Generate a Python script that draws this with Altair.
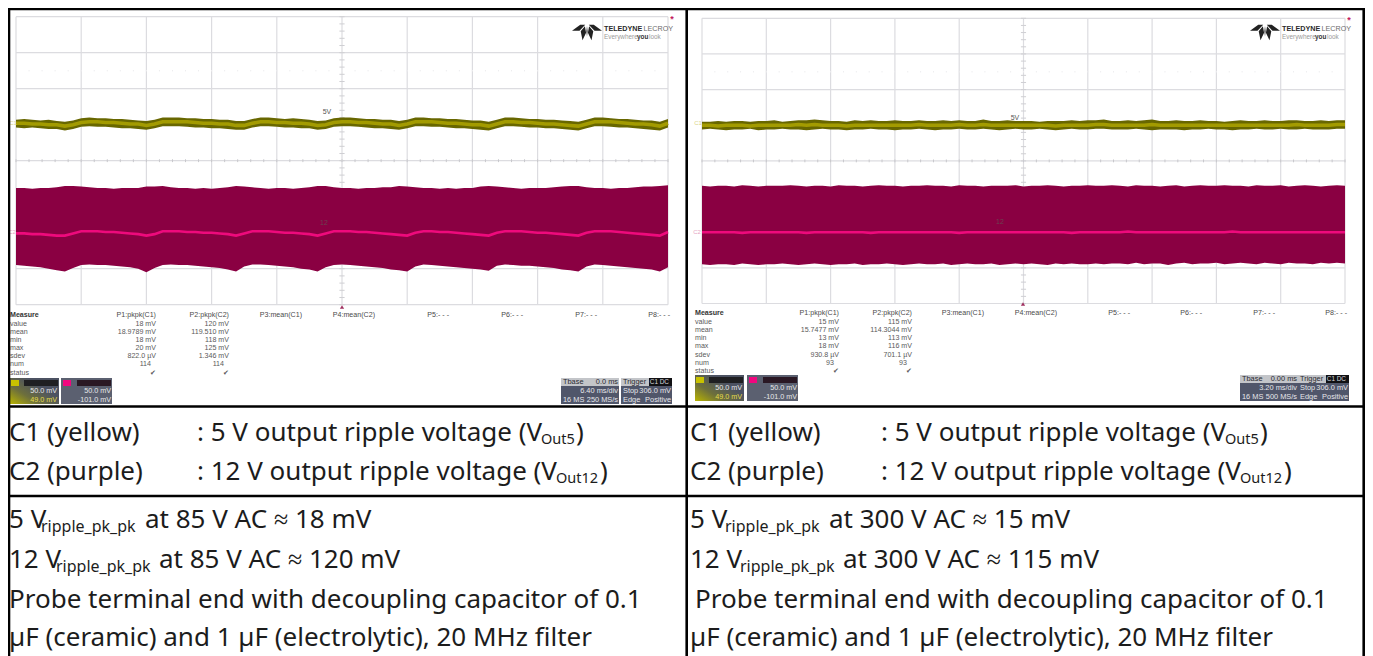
import altair as alt
import pandas as pd

# ---- left capture (85 V AC, 6.40 ms/div, 50 mV/div): one sample every 0.8 ms, mV from screen centre
left_yellow_top = [57,58,57,56,57,55,54,56,59,60, 59,59,58,58,57,56,55,57,60,60, 60,59,59,58,58,57,57,55,55,58,
    60,60,59,58,59,58,57,55,56,59, 60,60,59,58,58,57,57,55,57,60, 60,59,59,58,58,57,56,56,54,57,
    60,60,59,58,58,57,57,56,55,54, 57,60,60,59,58,58,57,56,56,54,58]
left_yellow_bot = [46,45,46,45,44,44,42,44,47,48, 47,47,46,45,45,44,43,45,48,48, 48,47,46,46,45,45,44,43,43,46,
    48,48,47,46,46,45,45,43,44,47, 48,48,47,46,45,45,44,43,45,48, 48,47,47,46,45,45,44,43,42,45,
    48,48,47,46,46,45,45,44,43,42, 45,48,48,47,46,46,45,44,43,42,46]
left_yellow_mid = [52,52,51,51,50,50,48,50,53,54, 54,53,53,52,51,51,49,51,54,54, 54,54,53,52,52,51,51,49,49,52,
    54,54,53,53,52,52,51,49,50,53, 54,54,53,53,52,51,51,49,51,54, 54,54,53,52,52,51,50,50,48,51,
    54,54,53,53,52,51,51,50,49,48, 51,54,54,54,53,52,51,51,50,48,52]
left_purple_top = [-38,-38,-39,-38,-38,-37,-35,-35,-36,-37, -38,-38,-39,-38,-38,-38,-36,-36,-35,-37,
    -38,-38,-39,-38,-39,-38,-37,-35,-36,-37, -38,-39,-38,-38,-39,-38,-37,-35,-35,-37,
    -38,-38,-39,-38,-38,-37,-37,-35,-36,-37, -38,-38,-39,-38,-39,-38,-38,-36,-35,-36,
    -37,-38,-39,-38,-38,-38,-37,-36,-35,-35, -37,-38,-38,-39,-38,-38,-37,-36,-36,-35,-34]
left_purple_bot = [-145,-146,-147,-148,-150,-152,-154,-149,-145,-144, -145,-145,-146,-147,-148,-150,-155,-149,-145,-144,
    -145,-145,-146,-147,-148,-149,-151,-154,-147,-144, -144,-145,-146,-147,-148,-150,-151,-154,-148,-145,
    -144,-145,-146,-147,-148,-149,-151,-152,-154,-147, -144,-145,-146,-147,-148,-149,-150,-151,-153,-146,
    -144,-145,-146,-146,-147,-148,-149,-151,-152,-154, -147,-144,-145,-146,-147,-148,-149,-150,-151,-154,-148]
left_purple_mid = [-101,-101,-102,-102,-103,-104,-104,-101,-98,-98, -98,-99,-99,-100,-101,-102,-104,-102,-98,-98,
    -98,-99,-99,-100,-100,-101,-102,-104,-101,-98, -98,-98,-99,-100,-100,-101,-102,-104,-101,-98,
    -98,-98,-99,-99,-100,-101,-102,-103,-104,-100, -98,-98,-99,-99,-100,-101,-102,-103,-104,-100,
    -98,-98,-98,-99,-100,-100,-101,-102,-103,-104, -100,-98,-98,-98,-99,-100,-101,-102,-103,-104,-99]

# ---- right capture (300 V AC, 3.20 ms/div, 50 mV/div): one sample every 0.4 ms
right_yellow_top = [55,55,56,55,56,56,55,56,56,57, 55,56,57,57,58,57,56,56,55,57, 56,57,56,56,57,56,56,57,56,56,
    57,56,57,56,56,58,56,56,57,56, 56,56,55,56,56,56,57,56,57,57, 58,56,56,57,56,57,58,56,56,57,
    56,56,57,56,56,55,56,57,56,56, 57,56,56,57,57,56,56,57,56,57,57]
right_yellow_bot = [44,45,44,43,44,44,45,43,44,44, 45,44,44,43,44,45,44,44,43,44, 44,45,44,44,43,44,44,45,44,43,
    44,44,45,44,44,45,44,43,44,45, 44,44,45,44,43,44,45,44,44,45, 45,44,44,44,45,44,43,44,44,44,
    43,44,44,45,44,44,43,44,44,45, 44,44,45,44,44,45,44,44,44,45,45]
right_yellow_mid = [50,50,49,50,50,50,49,50,50,50, 50,50,51,50,51,50,50,50,49,50, 50,50,50,50,50,50,50,51,50,50,
    50,50,51,50,50,51,50,50,50,50, 50,50,50,50,49,50,50,50,50,51, 51,50,50,50,50,50,51,50,50,50,
    50,50,50,50,50,50,50,50,50,50, 50,50,50,50,51,50,50,50,50,51,51]
right_purple_top = [-35,-36,-35,-35,-36,-34,-35,-36,-35,-35, -35,-34,-35,-36,-35,-35,-36,-34,-35,-35, -36,-35,-34,-35,-35,-36,-35,-35,-34,-35,
    -35,-36,-34,-35,-35,-36,-35,-35,-35,-34, -36,-35,-35,-34,-35,-36,-35,-35,-34,-35, -35,-34,-35,-36,-34,-35,-35,-36,-35,-34,
    -36,-35,-34,-35,-35,-34,-35,-35,-36,-34, -35,-35,-34,-36,-35,-34,-35,-36,-35,-34,-35]
right_purple_bot = [-145,-146,-145,-145,-146,-144,-145,-146,-145,-145, -144,-145,-146,-145,-144,-145,-146,-145,-145,-144, -146,-145,-145,-144,-145,-146,-145,-144,-145,-145,
    -144,-146,-145,-144,-145,-145,-144,-146,-145,-144, -145,-144,-145,-146,-144,-145,-144,-145,-145,-144, -145,-144,-144,-145,-143,-145,-144,-144,-146,-144,
    -143,-145,-144,-144,-143,-145,-144,-143,-144,-145, -143,-144,-145,-143,-144,-144,-145,-143,-144,-143,-144]
right_purple_mid = [-100,-100,-100,-100,-100,-101,-100,-100,-100,-100, -100,-100,-100,-101,-100,-100,-100,-100,-100,-100, -100,-101,-100,-100,-100,-100,-100,-100,-100,-100,
    -100,-100,-101,-100,-100,-100,-100,-100,-100,-100, -100,-100,-100,-100,-100,-100,-101,-100,-100,-100, -100,-100,-100,-99,-100,-100,-100,-100,-100,-100,
    -100,-100,-100,-100,-100,-100,-99,-100,-100,-100, -100,-100,-100,-100,-100,-100,-100,-100,-100,-100,-100]

measure_names = ["value", "mean", "min", "max", "sdev", "num", "status"]
left_p1 = ["18 mV", "18.9789 mV", "18 mV", "20 mV", "822.0 µV", "114", "✔"]
left_p2 = ["120 mV", "119.510 mV", "118 mV", "125 mV", "1.346 mV", "114", "✔"]
right_p1 = ["15 mV", "15.7477 mV", "13 mV", "18 mV", "930.8 µV", "93", "✔"]
right_p2 = ["115 mV", "114.3044 mV", "113 mV", "116 mV", "701.1 µV", "93", "✔"]
param_names = ["P1:pkpk(C1)", "P2:pkpk(C2)", "P3:mean(C1)", "P4:mean(C2)", "P5:- - -", "P6:- - -", "P7:- - -", "P8:- - -"]

ORG, TOP, WIDTH, HEIGHT = 8, 8, 1357, 648
SANS = "Liberation Sans"
BODY = "Noto Sans"
BODY_SIZE = 26
SUB_SIZE = 14.5
RIP_SIZE = 16
INK = "#1c1c1c"


def T(rows, size=7.1, color="#5a5a5a", align="right", weight="normal", font=SANS, baseline="middle"):
    df = pd.DataFrame([{"px": r[0] - ORG, "py": r[1] - TOP, "s": r[2]} for r in rows])
    return alt.Chart(df).mark_text(fontSize=size, color=color, align=align, fontWeight=weight,
                                   font=font, baseline=baseline).encode(
        x=alt.X("px:Q", scale=None, axis=None), y=alt.Y("py:Q", scale=None, axis=None), text="s:N")


def R(x0, y0, x1, y1, color):
    df = pd.DataFrame({"a": [x0 - ORG], "b": [x1 - ORG], "c": [y0 - TOP], "d": [y1 - TOP]})
    return alt.Chart(df).mark_rect(color=color).encode(
        x=alt.X("a:Q", scale=None, axis=None), x2="b:Q",
        y=alt.Y("c:Q", scale=None, axis=None), y2="d:Q")


def panel(span_left, span_right, span_top, span_bot, ms_per_div, yellow, purple,
          params_x, rows_y, p_cols, p1, p2, box_y, boxes, logo_x, star, col_texts, markers, trig_x, tb):
    mv_px = (span_bot - span_top) / 400.0
    ms_px = (span_right - span_left) / (10 * ms_per_div)
    half = 5 * ms_per_div
    x_dom = [-half - (span_left - ORG) / ms_px, -half + (ORG + WIDTH - span_left) / ms_px]
    cy = (span_top + span_bot) / 2
    y_dom = [(cy - TOP - HEIGHT) / mv_px, (cy - TOP) / mv_px]
    xs = alt.Scale(domain=x_dom, nice=False, zero=False)
    ys = alt.Scale(domain=y_dom, nice=False, zero=False)
    X = alt.X("t:Q", scale=xs, axis=None)
    Y = alt.Y("v:Q", scale=ys, axis=None)
    Y1 = alt.Y("v0:Q", scale=ys, axis=None)
    X1 = alt.X("t0:Q", scale=xs, axis=None)

    layers = []
    div = ms_per_div
    GRID = "#dcdce0"
    vdf = pd.DataFrame({"t": [(-5 + i) * div for i in range(11)], "v0": -200, "v1": 200})
    layers.append(alt.Chart(vdf).mark_rule(color=GRID, strokeWidth=1.2).encode(x=X, y=Y1, y2="v1:Q"))
    hdf = pd.DataFrame({"v": [-200 + 50 * i for i in range(9)], "t0": -half, "t1": half})
    layers.append(alt.Chart(hdf).mark_rule(color=GRID, strokeWidth=1.2).encode(y=Y, x=X1, x2="t1:Q"))
    ctx = pd.DataFrame({"t0": [(-5 + i * 0.2) * div for i in range(51)]})
    ctx["t"] = ctx["t0"]
    ctx["v0"] = -2
    ctx["v1"] = 2
    layers.append(alt.Chart(ctx).mark_rule(color="#c8c8cc", strokeWidth=1).encode(x=X, y=Y1, y2="v1:Q"))
    dot = ctx.copy()
    dot["v0"] = 124
    dot["v1"] = 126
    layers.append(alt.Chart(dot).mark_rule(color="#ededef", strokeWidth=1).encode(x=X, y=Y1, y2="v1:Q"))
    cty = pd.DataFrame({"v": [-200 + 10 * i for i in range(41)]})
    cty["t0"] = -0.04 * div
    cty["t1"] = 0.04 * div
    layers.append(alt.Chart(cty).mark_rule(color="#cfcfd3", strokeWidth=1).encode(y=Y, x=X1, x2="t1:Q"))

    step = ms_per_div / 8.0
    times = [-half + i * step for i in range(81)]
    for (top, bot, mid, fill, line, wide) in [
        (yellow[0], yellow[1], yellow[2], "#686700", "#a39b00", 3.6),
        (purple[0], purple[1], purple[2], "#8a0042", "#ee0a7c", 2.6),
    ]:
        d = pd.DataFrame({"t": times, "v": top, "v1": bot, "m": mid})
        layers.append(alt.Chart(d).mark_area(color=fill, opacity=1, line=False, interpolate="linear")
                      .encode(x=X, y=Y, y2="v1:Q"))
        layers.append(alt.Chart(d).mark_line(color=line, strokeWidth=wide, interpolate="linear")
                      .encode(x=X, y=alt.Y("m:Q", scale=ys, axis=None)))

    layers.append(T([(params_x, rows_y[0], "Measure")], align="left", weight="bold", color="#333333"))
    layers.append(T([(params_x, rows_y[i + 1], s) for i, s in enumerate(measure_names)], align="left"))
    layers.append(T([(x, rows_y[0], s) for x, s in zip(p_cols, param_names)], color="#4a4a4a"))
    layers.append(T([(p_cols[0] - (5 if i == 5 else 0), rows_y[i + 1], s) for i, s in enumerate(p1)]))
    layers.append(T([(p_cols[1] - (5 if i == 5 else 0), rows_y[i + 1], s) for i, s in enumerate(p2)]))

    c1, c2, tbx, trx = boxes
    by0, by1 = box_y, box_y + 26
    grad = alt.Gradient(gradient="linear", x1=0, y1=1, x2=1, y2=0.15,
                        stops=[alt.GradientStop(color="#b9b400", offset=0),
                               alt.GradientStop(color="#6d6f3c", offset=0.35),
                               alt.GradientStop(color="#4c5262", offset=0.7)])
    layers.append(alt.Chart(pd.DataFrame({"a": [c1 - ORG], "b": [c1 + 49 - ORG], "c": [by0 - TOP], "d": [by1 - TOP]}))
                  .mark_rect(color=grad).encode(x=alt.X("a:Q", scale=None, axis=None), x2="b:Q",
                                                y=alt.Y("c:Q", scale=None, axis=None), y2="d:Q"))
    layers.append(R(c2, by0, c2 + 51, by1, "#5b6070"))
    layers.append(R(c1 + 1, by0 + 2, c1 + 9, by0 + 8, "#c9c200"))
    layers.append(R(c1 + 14, by0 + 2, c1 + 48, by0 + 8, "#1f1f22"))
    layers.append(R(c2 + 2, by0 + 2, c2 + 10, by0 + 8, "#f0067f"))
    layers.append(R(c2 + 16, by0 + 2, c2 + 50, by0 + 8, "#2a1824"))
    layers.append(T([(c1 + 47, by0 + 13, "50.0 mV"), (c2 + 50, by0 + 13, "50.0 mV"), (c2 + 50, by0 + 22, "-101.0 mV")],
                    color="#e8e8ea", size=7.2))
    layers.append(T([(c1 + 47, by0 + 22, "49.0 mV")], color="#e4dd4a", size=7.2))

    layers.append(R(tbx, by0, tbx + 58, by1, "#50566a"))
    layers.append(R(tbx, by0, tbx + 58, by0 + 8, "#c3c5c9"))
    layers.append(R(trx, by0, trx + 51, by1, "#50566a"))
    layers.append(R(trx, by0, trx + 28, by0 + 8, "#c3c5c9"))
    layers.append(R(trx + 28, by0, trx + 51, by0 + 8, "#111114"))
    layers.append(T([(tbx + 2, by0 + 4, "Tbase"), (trx + 2, by0 + 4, "Trigger")], align="left", color="#2a2a30", size=7.4))
    layers.append(T([(tbx + 57, by0 + 4, tb[0])], color="#2a2a30", size=7.4))
    layers.append(T([(tbx + 57, by0 + 13, tb[1]), (tbx + 57, by0 + 22, tb[2]), (trx + 50, by0 + 13, "306.0 mV"),
                     (trx + 50, by0 + 22, "Positive")], color="#e6e6ea", size=7.4))
    layers.append(T([(tbx + 2, by0 + 22, "16 MS"), (trx + 2, by0 + 13, "Stop"), (trx + 2, by0 + 22, "Edge")],
                    align="left", color="#e6e6ea", size=7.4))
    layers.append(T([(trx + 48, by0 + 4, "C1 DC")], color="#d8d8dc", size=6.4))

    wing = ("M-1,-0.08 L-0.45,-0.48 L-0.12,-0.48 L-0.5,-0.08 Z "
            "M1,-0.08 L0.45,-0.48 L0.12,-0.48 L0.5,-0.08 Z "
            "M-0.42,-0.05 L-0.14,-0.38 L-0.06,0.05 L-0.3,0.55 Z "
            "M0.42,-0.05 L0.14,-0.38 L0.06,0.05 L0.3,0.55 Z "
            "M0,-0.4 L0.04,-0.05 L0,0.3 L-0.04,-0.05 Z")
    layers.append(alt.Chart(pd.DataFrame({"px": [logo_x + 15 - ORG], "py": [32 - TOP]}))
                  .mark_point(shape=wing, size=900, filled=True, color="#222222", opacity=1)
                  .encode(x=alt.X("px:Q", scale=None, axis=None), y=alt.Y("py:Q", scale=None, axis=None)))
    layers.append(T([(logo_x + 32, 29, "TELEDYNE")], size=7.2, weight="bold", color="#2b2b2b", align="left"))
    layers.append(T([(logo_x + 71.5, 29, "LECROY")], size=7.2, color="#6c6c6c", align="left"))
    layers.append(T([(logo_x + 32, 36.5, "Everywhere")], size=6.4, color="#9a9a9a", align="left"))
    layers.append(T([(logo_x + 65, 36.5, "you")], size=6.4, weight="bold", color="#333333", align="left"))
    layers.append(T([(logo_x + 77, 36.5, "look")], size=6.4, color="#9a9a9a", align="left"))

    layers.append(T([(star[0], star[1], "*")], size=9, color="#c2185b", align="center", weight="bold"))
    layers.append(T([(col_texts[0][0], col_texts[0][1], "C1")], size=6, color="#d9d58a", align="center"))
    layers.append(T([(col_texts[1][0], col_texts[1][1], "C2")], size=6, color="#e6a6c4", align="center"))
    layers.append(T([(markers[0][0], markers[0][1], "5V")], size=7, color="#555555", align="center"))
    layers.append(T([(markers[1][0], markers[1][1], "12")], size=7, color="#6a4050", align="center"))
    layers.append(alt.Chart(pd.DataFrame({"px": [trig_x - ORG], "py": [by0 - 71 - TOP]}))
                  .mark_point(shape="triangle-up", size=18, filled=True, color="#a03060", opacity=1)
                  .encode(x=alt.X("px:Q", scale=None, axis=None), y=alt.Y("py:Q", scale=None, axis=None)))
    return layers


def frame(xs_v, ys_h):
    out = []
    for xv in xs_v:
        out.append(alt.Chart(pd.DataFrame({"a": [0]})).mark_rule(color="#000000", strokeWidth=2.6).encode(
            x=alt.value(xv - ORG), y=alt.value(0), y2=alt.value(HEIGHT)))
    for yv in ys_h:
        out.append(alt.Chart(pd.DataFrame({"a": [0]})).mark_rule(color="#000000", strokeWidth=2.4).encode(
            x=alt.value(0), x2=alt.value(WIDTH), y=alt.value(yv - TOP)))
    return out


L_rows = [315.3, 323.5, 332, 340, 348, 356, 364, 373]
left_layers = panel(16, 668, 16.7, 304.7, 6.4,
    (left_yellow_top, left_yellow_bot, left_yellow_mid), (left_purple_top, left_purple_bot, left_purple_mid),
    10, L_rows, [156, 229, 302, 375, 449, 523, 597, 670], left_p1, left_p2, 378, (10, 61, 561, 621),
    572, (672, 19), ((13, 123), (12, 232)), ((327, 112), (324, 223)), 342,
    ("0.0 ms", "6.40 ms/div", "250 MS/s"))

R_rows = [313, 321.5, 329.5, 338, 346, 354.5, 363, 371]
right_layers = panel(702, 1345, 18.3, 303.5, 3.2,
    (right_yellow_top, right_yellow_bot, right_yellow_mid), (right_purple_top, right_purple_bot, right_purple_mid),
    695, R_rows, [839, 912, 984, 1057, 1130, 1202, 1275, 1347], right_p1, right_p2, 375, (695, 747, 1240, 1298),
    1250, (1349, 20), ((698, 123), (697, 232)), ((1015, 118), (1000, 222)), 1023,
    ("0.00 ms", "3.20 ms/div", "500 MS/s"))

rows_y = [433, 472, 520, 560, 600, 638]


def body(dx, start, v, third):
    B = dict(size=BODY_SIZE, color=INK, align="left", font=BODY)
    S = dict(size=SUB_SIZE, color=INK, align="left", font=BODY)
    P = dict(size=RIP_SIZE, color=INK, align="left", font=BODY)
    return [
        T([(start, rows_y[0], "C1 (yellow)"), (start, rows_y[1], "C2 (purple)")], **B),
        T([(197 + dx, rows_y[0], ": 5 V output ripple voltage (V"), (197 + dx, rows_y[1], ": 12 V output ripple voltage (V")], **B),
        T([(541 + dx, rows_y[0] + 7, "Out5"), (556 + dx, rows_y[1] + 7, "Out12")], **S),
        T([(576 + dx, rows_y[0], ")"), (600 + dx, rows_y[1], ")")], **B),
        T([(start, rows_y[2], "5 V"), (start, rows_y[3], "12 V")], **B),
        T([(41 + dx, rows_y[2] + 7, "ripple_pk_pk"), (56 + dx, rows_y[3] + 7, "ripple_pk_pk")], **P),
        T([(145 + dx, rows_y[2], third[0]), (159 + dx, rows_y[3], third[1])], **B),
        T([(start + v, rows_y[4], "Probe terminal end with decoupling capacitor of 0.1"),
           (start, rows_y[5], "µF (ceramic) and 1 µF (electrolytic), 20 MHz filter")], **B),
    ]


all_layers = left_layers + right_layers
all_layers += body(0, 9, 0, ("at 85 V AC ≈ 18 mV", "at 85 V AC ≈ 120 mV"))
all_layers += body(684, 690, 5, ("at 300 V AC ≈ 15 mV", "at 300 V AC ≈ 115 mV"))
all_layers += frame([9, 686.7, 1363.7], [9, 406.5, 496])

chart = (alt.layer(*all_layers)
         .resolve_scale(x="independent", y="independent")
         .properties(width=WIDTH, height=HEIGHT, padding=0, background="white",
                     autosize=alt.AutoSizeParams(type="none"))
         .configure_view(stroke=None))
chart.save("out.html", embed_options={"renderer": "svg", "actions": False})
